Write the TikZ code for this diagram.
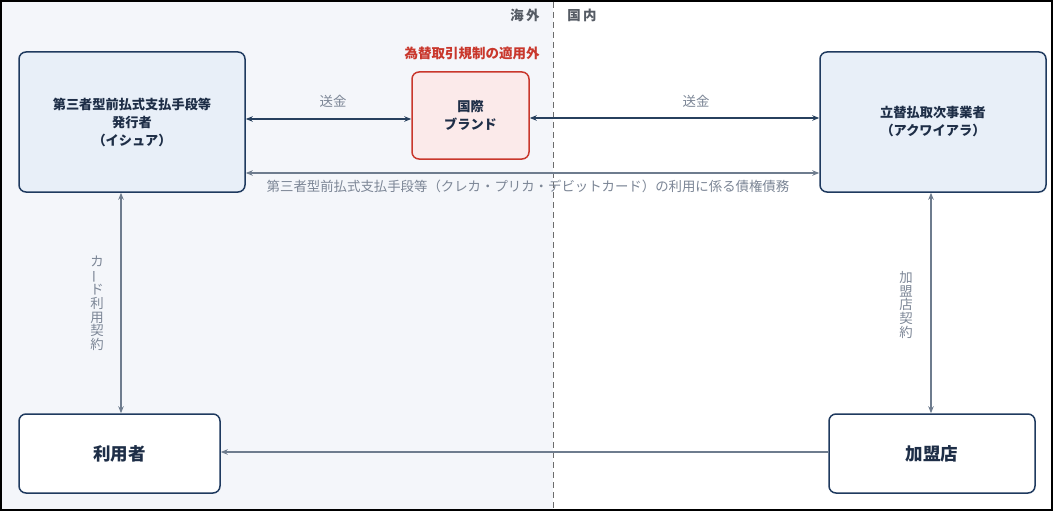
\documentclass[tikz,border=0pt]{standalone}
\usepackage{fontspec}
\setmainfont{Noto Sans CJK JP}
\usetikzlibrary{arrows.meta}
\definecolor{navy}{HTML}{1F3A5F}
\definecolor{navytext}{HTML}{1E2E47}
\definecolor{sendcol}{HTML}{27405E}
\definecolor{grayarrow}{HTML}{6E7C8E}
\definecolor{graytext}{HTML}{7C8696}
\definecolor{leftbg}{HTML}{F4F6FA}
\definecolor{boxblue}{HTML}{E8EFF8}
\definecolor{brandfill}{HTML}{FBEAEA}
\definecolor{brandred}{HTML}{C9372C}
\definecolor{regiongray}{HTML}{555B64}
\tikzset{
  x=1pt, y=-1pt,
  entity/.style={draw=navy, line width=1.5pt, rounded corners=7pt, align=center,
    font=\bfseries\fontsize{13.2}{18}\selectfont, text=navytext, inner sep=0pt},
  bluebox/.style={entity, fill=boxblue, minimum width=226pt, minimum height=140pt},
  whitebox/.style={entity, fill=white, minimum height=79pt, font=\bfseries\fontsize{17.5}{20}\selectfont},
  brandbox/.style={entity, draw=brandred, fill=brandfill, minimum width=117pt, minimum height=87pt},
  sendarrow/.style={draw=sendcol, line width=1.8pt, {Stealth[length=7pt,width=5.5pt]}-{Stealth[length=7pt,width=5.5pt]}},
  grayline/.style={draw=grayarrow, line width=1.8pt},
  grayboth/.style={grayline, {Stealth[length=7pt,width=5.5pt]}-{Stealth[length=7pt,width=5.5pt]}},
  grayone/.style={grayline, -{Stealth[length=7pt,width=5.5pt]}},
  lbl/.style={text=graytext, font=\fontsize{13.4}{13.6}\selectfont, inner sep=0pt, align=center},
  region/.style={text=regiongray, font=\bfseries\fontsize{13.4}{15}\selectfont, inner sep=0pt},
}
\begin{document}
\begin{tikzpicture}
\useasboundingbox (0,0) rectangle (1053,511);
\fill[leftbg] (0,0) rectangle (553,511);
\fill[white] (553,0) rectangle (1053,511);
\draw[gray!85!black, line width=1pt, dash pattern=on 6pt off 4pt] (553,2) -- (553,509);
\node[region] (kaigai) at (525,15) {海\,外};
\node[region] (kokunai) at (582,15) {国\,内};

\node[bluebox] (issuer) at (132,122) {第三者型前払式支払手段等\\発行者\\（イシュア）};
\node[brandbox] (brand) at (470.5,115.5) {国際\\ブランド};
\node[bluebox] (acq) at (933,122) {立替払取次事業者\\（アクワイアラ）};
\node[whitebox, minimum width=201pt] (user) at (119.5,453.5) {利用者};
\node[whitebox, minimum width=206pt] (merchant) at (932,453.5) {加盟店};

\node[text=brandred, font=\bfseries\fontsize{13.5}{15}\selectfont, inner sep=0pt] (exempt) at (472,53) {為替取引規制の適用外};

\draw[sendarrow] (issuer.east |- 0,119) -- (brand.west |- 0,119);
\node[lbl] (send1) at (333,101) {送金};
\draw[sendarrow] (brand.east |- 0,118) -- (acq.west |- 0,118);
\node[lbl] (send2) at (696,101) {送金};

\draw[grayboth] (issuer.east |- 0,173) -- (acq.west |- 0,173);
\node[lbl] (debt) at (528,186) {第三者型前払式支払手段等（クレカ・プリカ・デビットカード）の利用に係る債権債務};

\draw[grayboth] (issuer.south -| 121,0) -- (user.north -| 121,0);
\node[lbl] (cardc) at (97,303) {カ\\\rotatebox[origin=c]{90}{ー}\\ド\\利\\用\\契\\約};
\draw[grayboth] (acq.south -| 931,0) -- (merchant.north -| 931,0);
\node[lbl] (merc) at (906,305) {加\\盟\\店\\契\\約};

\draw[grayone] (merchant.west |- 0,452) -- (user.east |- 0,452);

\draw[black, line width=2pt] (1,1) rectangle (1052,510);
\end{tikzpicture}
\end{document}
